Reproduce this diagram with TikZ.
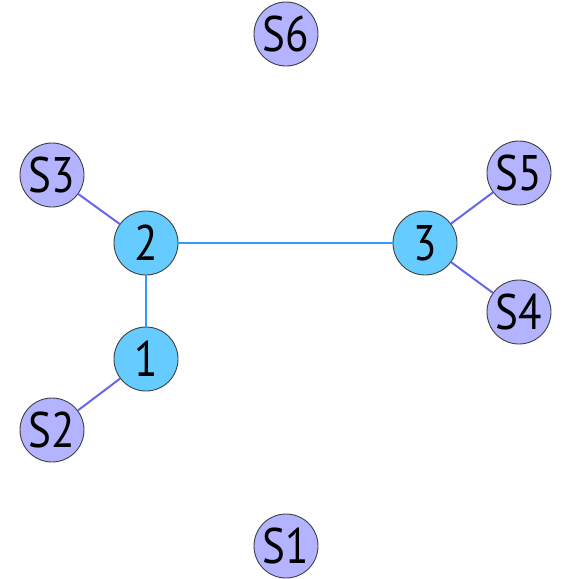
\documentclass[tikz,border=0pt]{standalone}
\usepackage{fontspec}
\setmainfont{PT Sans}[FakeStretch=0.86]
\begin{document}
\begin{tikzpicture}[x=1pt,y=-1pt,
  base/.style={circle,draw=black!75,line width=0.9pt,minimum size=64pt,inner sep=0pt,font=\fontsize{50}{50}\selectfont},
  hub/.style={base,fill=hubfill},
  leaf/.style={base,fill=leaffill},
  hubedge/.style={draw=hubline,line width=2pt},
  leafedge/.style={draw=leafline,line width=2pt}]
\definecolor{hubfill}{HTML}{66CCFF}
\definecolor{leaffill}{HTML}{B3B3FF}
\definecolor{hubline}{HTML}{3399FF}
\definecolor{leafline}{HTML}{6666EE}
\useasboundingbox (0,0) rectangle (571,579);
\node[leaf] (s6) at (286,34) {S6};
\node[leaf] (s3) at (52,175) {S3};
\node[leaf] (s5) at (519,173) {S5};
\node[hub] (n2) at (146,243) {2};
\node[hub] (n3) at (425,243) {3};
\node[leaf] (s4) at (519,312) {S4};
\node[hub] (n1) at (146,359) {1};
\node[leaf] (s2) at (52,430) {S2};
\node[leaf] (s1) at (286,546) {S1};
\draw[hubedge] (n2) -- (n3);
\draw[hubedge] (n2) -- (n1);
\draw[leafedge] (s3) -- (n2);
\draw[leafedge] (n3) -- (s5);
\draw[leafedge] (n3) -- (s4);
\draw[leafedge] (n1) -- (s2);
\end{tikzpicture}
\end{document}
